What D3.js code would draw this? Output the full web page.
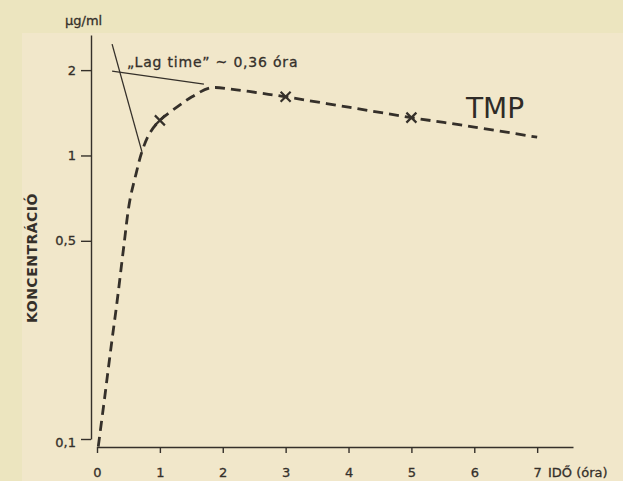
<!DOCTYPE html>
<html>
<head>
<meta charset="utf-8">
<script src="https://cdn.jsdelivr.net/npm/d3@7"></script>
<style>
  body { margin: 0; background: #efe5c7; }
  svg { display: block; }
</style>
</head>
<body>
<svg id="chart"></svg>
<script>
// concentration curve of TMP (time in hours, ug/ml)
const curveTime = [0.02, 0.12, 0.22, 0.32, 0.42, 0.52, 0.62, 0.72, 0.84, 1.0, 1.27, 1.51, 1.8, 2.16, 2.59, 3.0, 4.0, 5.0, 6.0, 7.0];
const curveConc = [0.094, 0.139, 0.208, 0.306, 0.466, 0.69, 0.86, 1.04, 1.2, 1.33, 1.48, 1.61, 1.73, 1.71, 1.66, 1.61, 1.48, 1.36, 1.26, 1.16];

// measured points (x markers)
const markerTime = [1, 3, 5];
const markerConc = [1.33, 1.61, 1.36];

// the two tangent lines used to read the lag time
const tangentTime = [[0.24, 0.715], [0.24, 1.7]];
const tangentConc = [[2.47, 1.03], [1.985, 1.786]];

const xTicks = [0, 1, 2, 3, 4, 5, 6, 7];
const yTicks = [0.1, 0.5, 1, 2];

const width = 623;
const height = 481;
const ink = "#35302a";
const font = "'DejaVu Sans', sans-serif";

const svg = d3.select("#chart")
    .attr("width", width)
    .attr("height", height)
    .style("font-family", font);

// paper
svg.append("rect")
    .attr("width", width)
    .attr("height", height)
    .attr("fill", "#ece5bf");
svg.append("rect")
    .attr("x", 22)
    .attr("y", 33)
    .attr("width", width - 22)
    .attr("height", height - 33)
    .attr("fill", "#f1e7ca");

const x = d3.scaleLinear().domain([0, 7.57]).range([97, 573]);
const y = d3.scaleLog().domain([0.1, 2.66]).range([439, 35]);

const xAxis = svg.append("g")
    .attr("transform", "translate(0,447)")
    .call(d3.axisBottom(x).tickValues(xTicks).tickSize(6).tickSizeOuter(0).tickPadding(15)
        .tickFormat(d3.format("d")));

const yAxis = svg.append("g")
    .attr("transform", "translate(91,0)")
    .call(d3.axisLeft(y).tickValues(yTicks).tickSize(10).tickSizeOuter(0).tickPadding(5)
        .tickFormat(d => String(d).replace(".", ",")));

[xAxis, yAxis].forEach(g => {
    g.selectAll("path, line").attr("stroke", ink).attr("stroke-width", 1.4);
    g.selectAll("text")
        .attr("fill", ink)
        .attr("stroke", ink)
        .attr("stroke-width", 0.3)
        .style("font-size", "13px")
        .style("font-family", font);
});
yAxis.selectAll(".tick text").filter(d => d === 0.1).attr("dy", "0.55em");

// axis titles
svg.append("text")
    .attr("x", 65).attr("y", 25)
    .attr("fill", ink)
    .attr("stroke", ink).attr("stroke-width", 0.3)
    .style("font-size", "13px")
    .text("µg/ml");

svg.append("text")
    .attr("transform", "translate(37,258) rotate(-90)")
    .attr("text-anchor", "middle")
    .attr("fill", ink)
    .style("font-size", "14px")
    .style("font-weight", "bold")
    .style("letter-spacing", "0.5px")
    .text("KONCENTRÁCIÓ");

svg.append("text")
    .attr("x", 548).attr("y", 477)
    .attr("fill", ink)
    .attr("stroke", ink).attr("stroke-width", 0.3)
    .style("font-size", "13px")
    .text("IDŐ (óra)");

// tangent lines
tangentTime.forEach((ts, i) => {
    svg.append("line")
        .attr("x1", x(ts[0])).attr("y1", y(tangentConc[i][0]))
        .attr("x2", x(ts[1])).attr("y2", y(tangentConc[i][1]))
        .attr("stroke", ink)
        .attr("stroke-width", 1.3);
});

svg.append("text")
    .attr("x", 127).attr("y", 67)
    .attr("fill", ink)
    .attr("stroke", ink).attr("stroke-width", 0.3)
    .style("font-size", "14px")
    .style("letter-spacing", "0.8px")
    .text("„Lag time” ~ 0,36 óra");

// dashed concentration curve
const line = d3.line()
    .x(d => x(d[0]))
    .y(d => y(d[1]))
    .curve(d3.curveCatmullRom.alpha(0.5));

svg.append("path")
    .datum(d3.zip(curveTime, curveConc))
    .attr("d", line)
    .attr("fill", "none")
    .attr("stroke", ink)
    .attr("stroke-width", 2.8)
    .attr("stroke-dasharray", "10,6");

// x markers
const s = 5;
svg.append("g")
    .selectAll("path")
    .data(d3.zip(markerTime, markerConc))
    .join("path")
    .attr("d", d => {
        const cx = x(d[0]), cy = y(d[1]);
        return `M${cx - s},${cy - s}L${cx + s},${cy + s}M${cx - s},${cy + s}L${cx + s},${cy - s}`;
    })
    .attr("stroke", ink)
    .attr("stroke-width", 2.2);

svg.append("text")
    .attr("x", 466).attr("y", 118)
    .attr("fill", "#2f2b27")
    .style("font-size", "28px")
    .text("TMP");
</script>
</body>
</html>
